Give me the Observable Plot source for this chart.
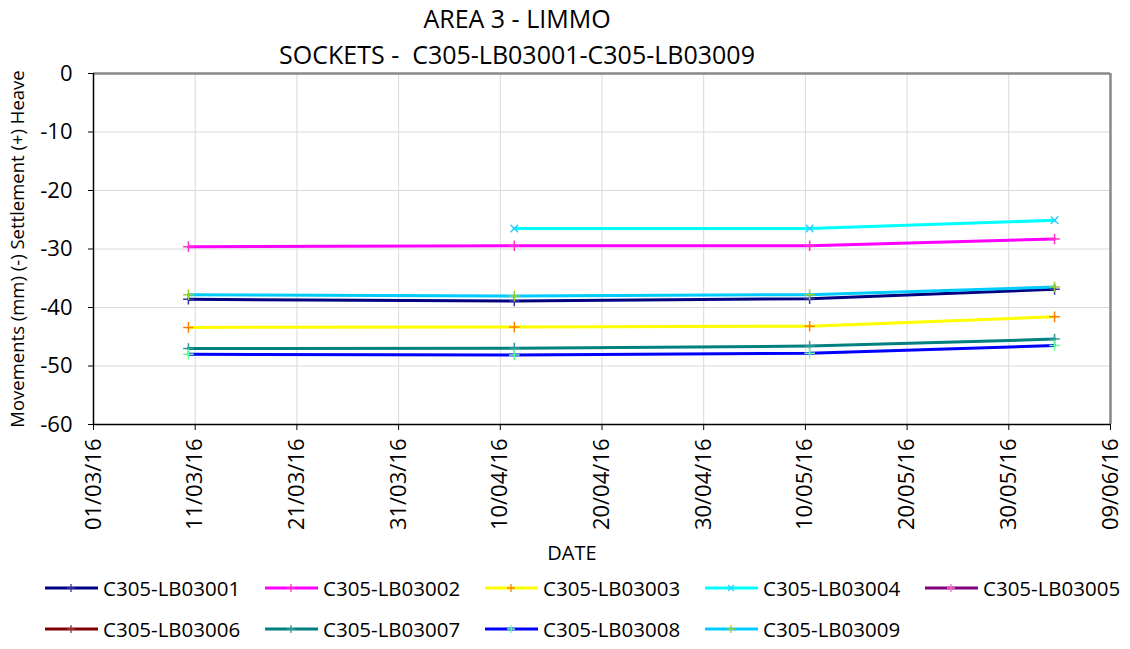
<!DOCTYPE html>
<html><head><meta charset="utf-8">
<script src="https://cdn.jsdelivr.net/npm/d3@7"></script>
<script src="https://cdn.jsdelivr.net/npm/@observablehq/plot@0.6"></script>
<style>
body{margin:0;background:#fff;font-family:"Open Sans",sans-serif;color:#000;}
#wrap{width:1130px;height:649px;overflow:hidden;}
#title{height:62px;width:1034px;text-align:center;}
#title div{font-size:25px;line-height:36px;white-space:pre;}
#legend{position:relative;height:87px;}
.item{position:absolute;display:flex;align-items:center;font-size:20.5px;height:30px;}
.item svg{margin-right:5px;}
</style></head>
<body><div id="wrap">
<div id="title"><div>AREA 3 - LIMMO</div><div>SOCKETS -  C305-LB03001-C305-LB03009</div></div>
<div id="chart"></div>
<div id="legend"></div>
</div>
<script>
const dates = ["2016-03-10T08:00Z", "2016-04-11T09:00Z", "2016-05-10T10:00Z", "2016-06-03T12:00Z"];
const seriesNames = ["C305-LB03001","C305-LB03002","C305-LB03003","C305-LB03004","C305-LB03005","C305-LB03006","C305-LB03007","C305-LB03008","C305-LB03009"];
const s01 = [-38.6, -38.9, -38.5, -36.9];
const s02 = [-29.6, -29.45, -29.45, -28.3];
const s03 = [-43.4, -43.35, -43.2, -41.6];
const s04 = [null, -26.5, -26.5, -25.1];
const s05 = [null, null, null, null];
const s06 = [null, null, null, null];
const s07 = [-47.0, -46.95, -46.6, -45.4];
const s08 = [-48.0, -48.1, -47.8, -46.5];
const s09 = [-37.8, -38.05, -37.8, -36.5];
const lineColors = ["#000080","#FF00FF","#FFFF00","#00FFFF","#800080","#800000","#008080","#0000FF","#00CCFF"];
const markerColors = ["#3333aa","#ff33cc","#ff8000","#33ccff","#ff66cc","#993333","#339999","#66ff99","#99cc33"];
const markerSymbols = ["plus","plus","plus","times","plus","plus","plus","plus","plus"];
const xTickLabels = ["2016-03-01","2016-03-11","2016-03-21","2016-03-31","2016-04-10","2016-04-20","2016-04-30","2016-05-10","2016-05-20","2016-05-30","2016-06-09"];
const yTicks = [0,-10,-20,-30,-40,-50,-60];

const allValues = [s01,s02,s03,s04,s05,s06,s07,s08,s09];
const xTickDates = xTickLabels.map(d => new Date(d));
const rows = [];
seriesNames.forEach((name,i) => allValues[i].forEach((v,j) => {
  if (v != null) rows.push({series:name, date:new Date(dates[j]), value:v});
}));

const dotMarks = seriesNames.map((name,i) => Plot.dot(rows.filter(r => r.series === name), {
  x:"date", y:"value", symbol: markerSymbols[i], stroke: markerColors[i], r:3.5, strokeWidth:1.5
}));

const chart = Plot.plot({
  width:1130, height:504, marginTop:11, marginLeft:93, marginRight:20, marginBottom:142,
  style:{fontFamily:"Open Sans", background:"transparent", color:"#000", overflow:"visible"},
  x:{type:"utc", domain:[xTickDates[0], xTickDates[xTickDates.length-1]]},
  y:{domain:[-60,0]},
  color:{domain:seriesNames, range:lineColors},
  marks:[
    Plot.gridX(xTickDates, {stroke:"#d9d9d9", strokeOpacity:1, strokeWidth:1}),
    Plot.gridY(yTicks, {stroke:"#d9d9d9", strokeOpacity:1, strokeWidth:1}),
    Plot.axisX(xTickDates, {tickFormat: d3.utcFormat("%d/%m/%y"), tickRotate:-90, tickSize:6, tickPadding:8, fontSize:22, label:null, stroke:"#000"}),
    Plot.axisY(yTicks, {tickSize:5, tickPadding:16, fontSize:22, label:null, stroke:"#000", tickFormat: d => d3.format("d")(d).replace("−","-")}),
    Plot.ruleY([0], {stroke:"#888", strokeWidth:2.5}),
    Plot.ruleX([xTickDates[xTickDates.length-1]], {stroke:"#888", strokeWidth:2.5}),
    Plot.ruleX([xTickDates[0]], {stroke:"#000", strokeWidth:1.5}),
    Plot.ruleY([-60], {stroke:"#000", strokeWidth:1.5}),
    Plot.lineY(rows, {x:"date", y:"value", z:"series", stroke:"series", strokeWidth:3}),
    ...dotMarks,
    Plot.text(["DATE"], {frameAnchor:"bottom", dx:-30, dy:129, fontSize:20, lineAnchor:"middle"}),
    Plot.text(["Movements (mm) (-) Settlement (+) Heave"], {frameAnchor:"left", rotate:-90, dx:-75, fontSize:18.5, lineAnchor:"middle", textAnchor:"middle"})
  ]
});
document.getElementById("chart").appendChild(chart);

const legend = document.getElementById("legend");
seriesNames.forEach((name,i) => {
  const col = i % 5, row = Math.floor(i / 5);
  const div = document.createElement("div");
  div.className = "item";
  div.style.left = (45 + col*220) + "px";
  div.style.top = (7 + row*41) + "px";
  const sym = markerSymbols[i] === "times"
    ? `<path d="M23,3L29,9M29,3L23,9" stroke="${markerColors[i]}" stroke-width="1.3"/>`
    : `<path d="M26,2V10M22,6H30" stroke="${markerColors[i]}" stroke-width="1.3"/>`;
  div.innerHTML = `<svg width="53" height="12"><line x1="0" y1="6" x2="53" y2="6" stroke="${lineColors[i]}" stroke-width="3"/>${sym}</svg><span>${name}</span>`;
  legend.appendChild(div);
});
</script>
</body></html>
